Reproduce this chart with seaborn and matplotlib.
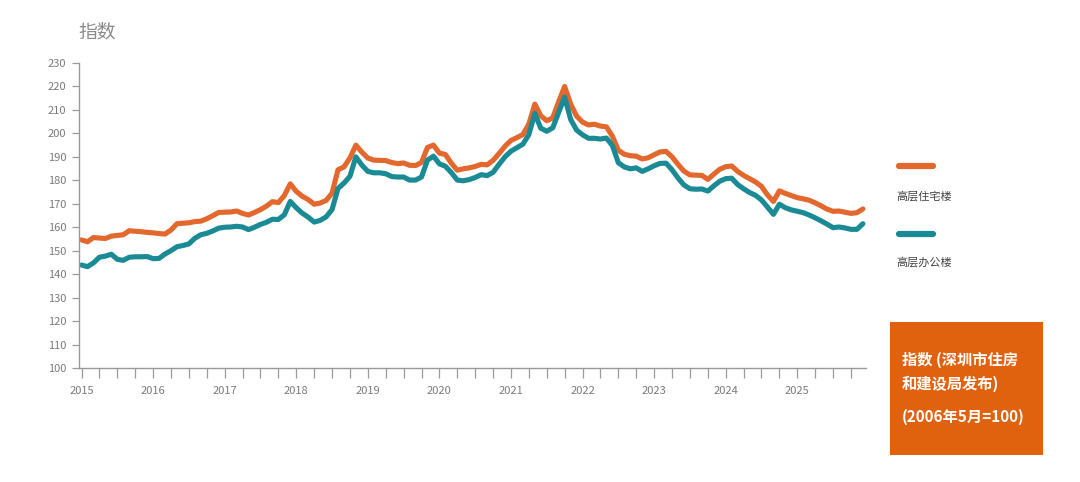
import numpy as np
import pandas as pd
import seaborn as sns
import matplotlib.pyplot as plt
from matplotlib.lines import Line2D
from matplotlib.patches import Rectangle

# monthly index, Jan 2015 - Dec 2025 (2006-05 = 100)
residential = [
    154.6, 153.8, 155.6, 155.4, 155.2, 156.2, 156.5, 156.8, 158.5, 158.3, 158.1, 157.8,
    157.6, 157.3, 157.1, 158.8, 161.5, 161.7, 161.9, 162.4, 162.6, 163.6, 164.9, 166.3,
    166.4, 166.5, 166.9, 165.9, 165.2, 166.3, 167.5, 169.0, 170.9, 170.5, 173.5, 178.5,
    175.3, 173.2, 171.8, 169.8, 170.3, 171.4, 174.5, 184.5, 185.7, 189.5, 195.0, 192.0,
    189.5, 188.6, 188.5, 188.4, 187.6, 187.1, 187.4, 186.4, 186.3, 187.6, 194.0, 195.0,
    191.6, 191.0, 187.3, 184.3, 184.9, 185.3, 185.9, 186.8, 186.6, 188.5, 191.4, 194.5,
    197.0, 198.2, 199.5, 204.0, 212.5, 207.5, 205.4, 206.6, 213.5, 220.0, 212.5, 207.4,
    204.8, 203.6, 203.9, 203.1, 202.8, 198.8, 192.8, 191.1, 190.5, 190.3, 189.1, 189.6,
    190.9, 192.1, 192.3, 190.0, 186.8, 183.9, 182.3, 182.2, 182.1, 180.4, 182.6, 184.7,
    185.8, 186.1, 183.8, 182.1, 180.7, 179.3, 177.4, 173.8, 171.0, 175.5, 174.4, 173.5,
    172.6, 172.1, 171.5, 170.4, 169.1, 167.7, 166.8, 166.9, 166.4, 165.9, 166.2, 167.8,
]
office = [
    143.9, 143.2, 144.8, 147.2, 147.7, 148.5, 146.3, 145.9, 147.2, 147.4, 147.4, 147.5,
    146.6, 146.7, 148.6, 150.0, 151.7, 152.2, 152.9, 155.3, 156.8, 157.4, 158.4, 159.6,
    160.0, 160.1, 160.4, 160.1, 159.0, 160.0, 161.2, 162.1, 163.4, 163.3, 165.3, 171.0,
    168.3, 166.0, 164.3, 162.2, 162.9, 164.4, 167.5, 176.5, 178.8, 181.7, 190.0, 186.5,
    183.8, 183.2, 183.2, 182.8, 181.6, 181.4, 181.4, 180.1, 180.1, 181.4, 188.6, 190.3,
    187.0, 186.0, 183.3, 180.1, 179.8, 180.3, 181.2, 182.4, 182.0, 183.4, 186.8, 190.0,
    192.4, 193.9, 195.4, 199.5, 208.5, 202.2, 200.9, 202.4, 209.0, 215.5, 206.0, 201.4,
    199.4, 197.9, 197.9, 197.6, 198.0, 194.8, 187.5, 185.7, 184.9, 185.3, 183.8, 184.9,
    186.2, 187.2, 187.3, 184.5, 181.0, 178.0, 176.4, 176.2, 176.3, 175.4, 177.6, 179.6,
    180.7, 180.9, 178.2, 176.4, 174.8, 173.6, 171.6, 168.6, 165.5, 169.8, 168.3, 167.4,
    166.8, 166.2, 165.2, 164.0, 162.7, 161.3, 159.8, 160.1, 159.7, 159.1, 159.1, 161.5,
]
series_names = ['高层住宅楼', '高层办公楼']
colors = ['#E2682E', '#1A8B95']
years = list(range(2015, 2026))
y_ticks = list(range(100, 240, 10))

t = 2015 + np.arange(len(residential)) / 12
df = pd.DataFrame({
    't': np.concatenate([t, t]),
    'value': residential + office,
    'series': [series_names[0]] * len(t) + [series_names[1]] * len(t),
})

sns.set_style('white')
plt.rcParams['font.family'] = ['Noto Sans CJK SC', 'DejaVu Sans']

fig = plt.figure(figsize=(10.8, 4.82), dpi=100)
ax = fig.add_axes([79 / 1080, 1 - 368 / 482, 787 / 1080, 305 / 482])

sns.lineplot(data=df, x='t', y='value', hue='series', palette=colors,
             linewidth=3.7, legend=False, ax=ax)
for ln in ax.get_lines():
    ln.set_solid_joinstyle('round')
    ln.set_solid_capstyle('round')

ax.set_xlim(2015 - 0.035, 2025.96)
ax.set_ylim(100, 230)
ax.set_xticks(years)
ax.set_xticklabels([str(y) for y in years])
ax.set_xticks(np.arange(2015, 2025.96, 0.25), minor=True)
ax.set_yticks(y_ticks)
ax.set_xlabel('')
ax.set_ylabel('')

grey = '#9a9a9a'
for side in ['top', 'right']:
    ax.spines[side].set_visible(False)
for side in ['left', 'bottom']:
    ax.spines[side].set_color(grey)
    ax.spines[side].set_linewidth(1.0)
ax.tick_params(axis='x', which='both', direction='out', length=7, width=0.9,
               color=grey, bottom=True, pad=6)
ax.tick_params(axis='x', which='major', labelsize=8, labelcolor='#7a7a7a')
ax.tick_params(axis='y', direction='out', length=5, width=0.9, color=grey,
               left=True, labelsize=8, labelcolor='#7a7a7a', pad=4)

fig.text(78 / 1080, 1 - 32 / 482, '指数', fontsize=13.5, color='#8a8a8a', va='center')

# legend on the right
for i, (name, c) in enumerate(zip(series_names, colors)):
    ly = 1 - (166 + 68 * i) / 482
    fig.add_artist(Line2D([899 / 1080, 933 / 1080], [ly, ly], color=c, linewidth=4.5,
                          solid_capstyle='round', transform=fig.transFigure))
    fig.text(896 / 1080, 1 - (196 + 66 * i) / 482, name, fontsize=8,
             color='#444444', va='center')

# note box
fig.add_artist(Rectangle((890 / 1080, 1 - 455 / 482), 153 / 1080, 133 / 482,
                         facecolor='#E0620F', edgecolor='none', transform=fig.transFigure))
for txt, yy in [('指数 (深圳市住房', 360), ('和建设局发布)', 384), ('(2006年5月=100)', 417)]:
    fig.text(902 / 1080, 1 - yy / 482, txt, fontsize=11, fontweight='bold',
             color='white', va='center')

fig.savefig('out.png', dpi=100)
